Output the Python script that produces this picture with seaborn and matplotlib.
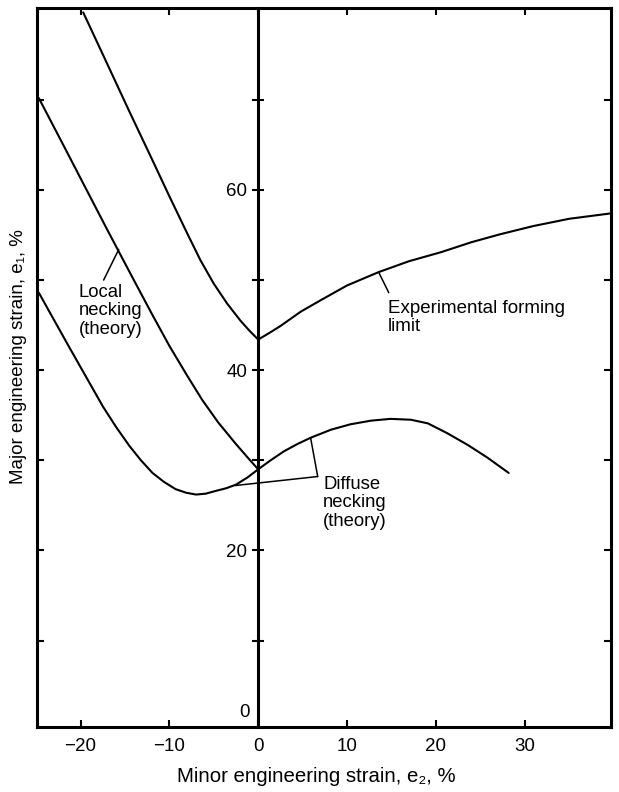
import seaborn as sns
import matplotlib.pyplot as plt
import pandas as pd

# forming limit diagram: major vs minor engineering strain (%)

# experimental forming limit (left branch + right branch, vertex at e2 = 0)
exp_e2 = [-19.7, -17.0, -14.5, -12.0, -10.0, -8.0, -6.5, -5.0, -3.5, -2.0, -1.0, 0.0,
          1.2, 2.5, 4.8, 7.1, 10.0, 13.6, 17.0, 20.6, 24.0, 27.3, 31.0, 35.0, 39.7]
exp_e1 = [79.7, 74.0, 68.7, 63.5, 59.3, 55.2, 52.2, 49.6, 47.4, 45.5, 44.4, 43.4,
          44.1, 44.9, 46.5, 47.8, 49.4, 50.9, 52.1, 53.1, 54.2, 55.1, 56.0, 56.8, 57.4]

# local necking (theory), e2 < 0 only
local_e2 = [-24.7, -22.0, -20.0, -17.0, -14.0, -12.0, -10.0, -8.0, -6.3, -4.5, -2.5, -1.0, 0.0]
local_e1 = [70.2, 65.1, 61.3, 55.6, 50.0, 46.3, 42.7, 39.4, 36.7, 34.2, 31.8, 30.1, 29.0]

# diffuse necking (theory)
diff_e2 = [-24.7, -23.0, -21.3, -19.4, -17.5, -16.0, -14.5, -13.2, -11.9, -10.6, -9.3,
           -8.1, -7.0, -5.9, -4.8, -3.6, -2.5, -1.2, 0.0, 1.4, 2.9, 4.4, 5.9, 8.2,
           10.4, 12.7, 14.9, 17.2, 19.1, 21.3, 23.6, 25.8, 28.2]
diff_e1 = [48.6, 45.6, 42.6, 39.3, 36.0, 33.7, 31.6, 30.0, 28.6, 27.6, 26.8,
           26.4, 26.2, 26.3, 26.6, 26.9, 27.3, 28.1, 29.0, 30.0, 31.0, 31.8, 32.5, 33.4,
           34.0, 34.4, 34.6, 34.5, 34.1, 33.0, 31.7, 30.3, 28.6]

x_ticks = [-20, -10, 0, 10, 20, 30]
x_labels = ['\u221220', '\u221210', '0', '10', '20', '30']
y_ticks = [10, 20, 30, 40, 50, 60, 70]
y_labels = ['', '20', '', '40', '', '60', '']

sns.set_style('white')
plt.rcParams['font.family'] = ['Liberation Sans', 'DejaVu Sans']
plt.rcParams['text.color'] = 'black'
plt.rcParams['axes.labelcolor'] = 'black'
plt.rcParams['axes.edgecolor'] = 'black'
plt.rcParams['xtick.color'] = 'black'
plt.rcParams['ytick.color'] = 'black'

fig = plt.figure(figsize=(6.19, 7.92), dpi=100)
ax = fig.add_axes([0.0598, 0.082, 0.927, 0.908])

df = pd.concat([
    pd.DataFrame({'e2': exp_e2, 'e1': exp_e1, 'curve': 'exp'}),
    pd.DataFrame({'e2': local_e2, 'e1': local_e1, 'curve': 'local'}),
    pd.DataFrame({'e2': diff_e2, 'e1': diff_e1, 'curve': 'diffuse'}),
])
sns.lineplot(data=df, x='e2', y='e1', units='curve', estimator=None, sort=False,
             color='black', lw=1.5, ax=ax, legend=False)

xmin, xmax = -24.9, 39.7
ymin, ymax = 0.4, 80.2
ax.set_xlim(xmin, xmax)
ax.set_ylim(ymin, ymax)

for s in ax.spines.values():
    s.set_visible(True)
    s.set_color('black')
    s.set_linewidth(2.2)

ax.set_xticks(x_ticks, labels=x_labels)
ax.set_yticks(y_ticks, labels=[])
ax.tick_params(axis='both', direction='in', length=5, width=1.5, colors='black',
               top=True, right=True, bottom=True, left=True, labelsize=13.5)
ax.tick_params(axis='x', pad=8)

# the e1 axis drawn at e2 = 0
sec = ax.secondary_yaxis((0 - xmin) / (xmax - xmin))
sec.spines['left'].set_linewidth(2.2)
sec.spines['left'].set_color('black')
sec.set_yticks(y_ticks, labels=y_labels)
sec.tick_params(direction='inout', length=8, width=1.5, pad=4, labelsize=13.5,
                colors='black')
ax.text(-1.0, 2.0, '0', ha='right', va='center', fontsize=13.5)

ax.set_xlabel('Minor engineering strain, e\u2082, %', fontsize=14.7)
ax.xaxis.set_label_coords(0.487, -0.055)
ax.set_ylabel('Major engineering strain, e\u2081, %', fontsize=13.5)
ax.yaxis.set_label_coords(-0.017, 0.515)

# labels and leader lines
lead = dict(arrowstyle='-', lw=1.1, color='black', shrinkA=0, shrinkB=0)
ax.text(-20.2, 49.6, 'Local\nnecking\n(theory)', ha='left', va='top', fontsize=13.3,
        linespacing=1.12)
ax.annotate('', xy=(-15.7, 53.4), xytext=(-17.4, 50.0), arrowprops=lead)

ax.text(14.6, 47.8, 'Experimental forming\nlimit', ha='left', va='top', fontsize=13.5,
        linespacing=1.12)
ax.annotate('', xy=(13.6, 50.8), xytext=(14.7, 48.6), arrowprops=lead)

ax.text(7.3, 28.3, 'Diffuse\nnecking\n(theory)', ha='left', va='top', fontsize=13.3,
        linespacing=1.12)
ax.annotate('', xy=(-2.6, 27.2), xytext=(6.7, 28.2), arrowprops=lead)
ax.annotate('', xy=(5.9, 32.5), xytext=(6.7, 28.2), arrowprops=lead)

fig.savefig('out.png', dpi=100, facecolor='white')
